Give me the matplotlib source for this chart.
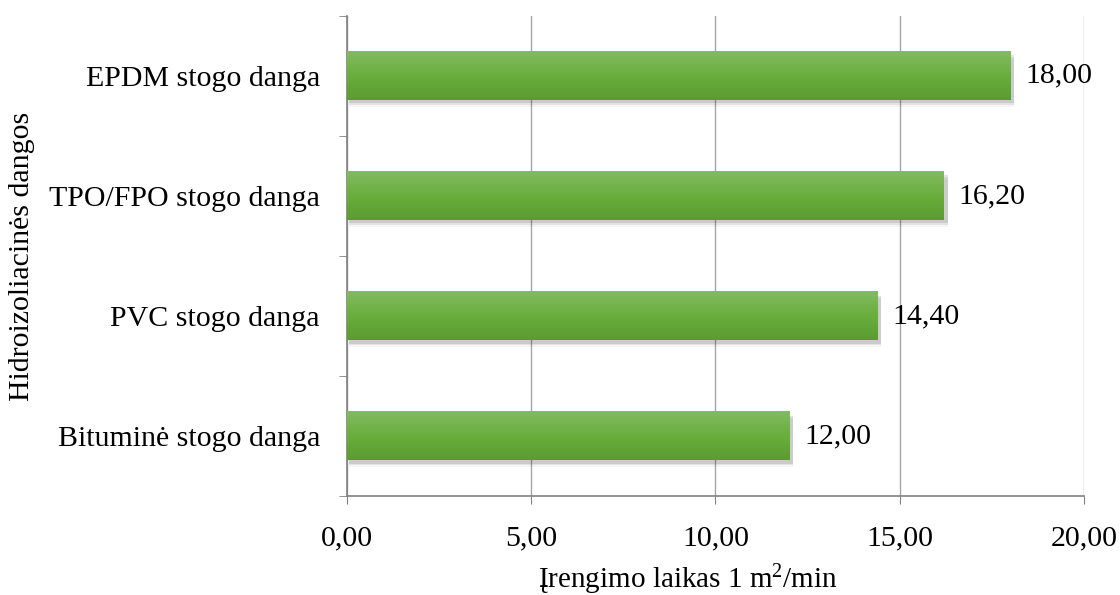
import numpy as np
import matplotlib.pyplot as plt
from matplotlib.colors import LinearSegmentedColormap
from matplotlib.patches import Rectangle

categories = ["Bituminė stogo danga", "PVC stogo danga",
              "TPO/FPO stogo danga", "EPDM stogo danga"]
values = [12.00, 14.40, 16.20, 18.00]
xticks = [0, 5, 10, 15, 20]

plt.rcParams["font.family"] = ["Liberation Serif", "DejaVu Serif"]
plt.rcParams["mathtext.fontset"] = "custom"
plt.rcParams["mathtext.rm"] = "Liberation Serif"
plt.rcParams["mathtext.it"] = "Liberation Serif:italic"
FS = 21.5

fig = plt.figure(figsize=(11.2, 5.95), dpi=100, facecolor="white")
ax = fig.add_axes([0.3098, 0.1664, 0.658, 0.807])

bar_h = 0.4
green = LinearSegmentedColormap.from_list("g", ["#5a9c31", "#6aae3d", "#82bb62"])
grad = np.linspace(0, 1, 64).reshape(-1, 1)

for i, v in enumerate(values):
    # soft shadow under the bar
    for k, a in enumerate([0.10, 0.07, 0.04]):
        ax.add_patch(Rectangle((0.05, i - bar_h / 2 - 0.03 - k * 0.015), v + 0.05,
                               bar_h, color="black", alpha=a, lw=0, zorder=2))
    ax.imshow(grad, cmap=green, aspect="auto", origin="lower",
              extent=(0, v, i - bar_h / 2, i + bar_h / 2), zorder=3)
    ax.text(v + 0.4, i, f"{v:.2f}".replace(".", ","), va="center", ha="left",
            fontsize=FS, color="black", zorder=4)

ax.set_xlim(0, 20)
ax.set_ylim(-0.5, len(categories) - 0.5)

ax.set_xticks(xticks)
ax.set_xticklabels([f"{t:.2f}".replace(".", ",") for t in xticks], fontsize=FS)
ax.set_yticks(range(len(categories)))
ax.set_yticklabels(categories, fontsize=FS)
ax.set_yticks(np.arange(-0.5, len(categories)), minor=True)

ax.tick_params(axis="y", which="major", length=0, pad=19.5)
ax.tick_params(axis="y", which="minor", length=6, color="#808080", direction="out")
ax.tick_params(axis="x", length=6, color="#808080", direction="out", pad=15)

ax.grid(axis="x", color="#a6a6a6", lw=1, zorder=0)
ax.set_axisbelow(True)
for s in ["top", "right"]:
    ax.spines[s].set_visible(False)
for s in ["left", "bottom"]:
    ax.spines[s].set_color("#808080")
    ax.spines[s].set_linewidth(1.2)

ax.set_xlabel("Įrengimo laikas 1 m$^{2}$/min", fontsize=21, va="baseline")
ax.xaxis.set_label_coords(0.462, -0.1917)
ax.set_ylabel("Hidroizoliacinės dangos", fontsize=FS, va="center")
ax.yaxis.set_label_coords(-0.441, 0.5)

fig.savefig("out.png", dpi=100, facecolor="white")
